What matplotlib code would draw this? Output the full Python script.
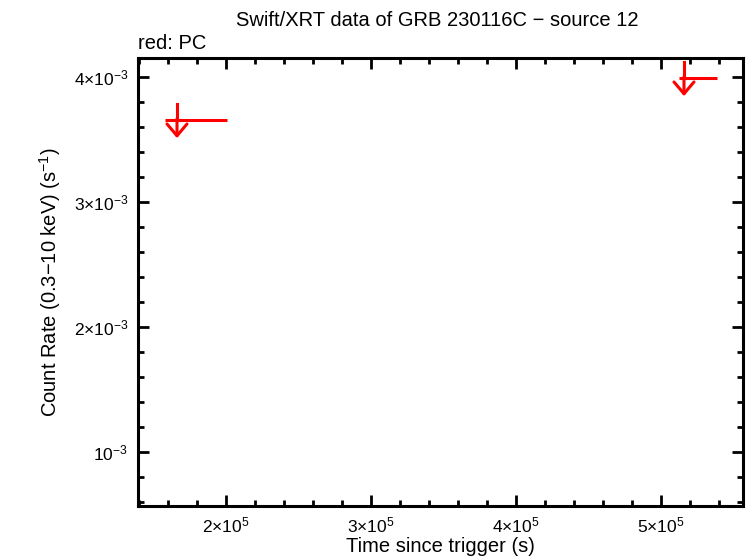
import matplotlib
matplotlib.use("Agg")
import matplotlib.pyplot as plt
from matplotlib.ticker import MultipleLocator

plt.rcParams["font.family"] = ["Liberation Sans", "DejaVu Sans"]
plt.rcParams["mathtext.fontset"] = "custom"
plt.rcParams["mathtext.rm"] = "Liberation Sans"
plt.rcParams["mathtext.default"] = "regular"

# PC mode upper limits
t_mid = [1.662e5, 5.159e5]
t_lo = [1.579e5, 5.124e5]
t_hi = [2.007e5, 5.386e5]
rate_ul = [3.656e-3, 3.992e-3]

xticks = [2e5, 3e5, 4e5, 5e5]
xlabels = [r"$2{\times}10^{5}$", r"$3{\times}10^{5}$", r"$4{\times}10^{5}$", r"$5{\times}10^{5}$"]
yticks = [1e-3, 2e-3, 3e-3, 4e-3]
ylabels = [r"$10^{-3}$", r"$2{\times}10^{-3}$", r"$3{\times}10^{-3}$", r"$4{\times}10^{-3}$"]

fig = plt.figure(figsize=(7.46, 5.58), dpi=100)
ax = fig.add_axes([138 / 746, 52 / 558, 605 / 746, 448 / 558])

for tm, lo, hi, r in zip(t_mid, t_lo, t_hi, rate_ul):
    ax.plot([lo, hi], [r, r], color="red", lw=2.2, solid_capstyle="butt")
    ax.plot([tm, tm], [r + 0.132e-3, r], color="red", lw=2.2)
    ax.annotate("", xy=(tm, r - 0.145e-3), xytext=(tm, r + 0.01e-3),
                arrowprops=dict(arrowstyle="->,head_length=0.85,head_width=0.72",
                                color="red", lw=2.2, shrinkA=0, shrinkB=0))

ax.set_xlim(1.393e5, 5.566e5)
ax.set_ylim(0.568e-3, 4.152e-3)
ax.set_xticks(xticks)
ax.set_xticklabels(xlabels)
ax.set_yticks(yticks)
ax.set_yticklabels(ylabels)
ax.xaxis.set_minor_locator(MultipleLocator(2e4))
ax.yaxis.set_minor_locator(MultipleLocator(2e-4))

for s in ax.spines.values():
    s.set_linewidth(2.2)
ax.tick_params(which="both", direction="in", top=True, right=True, width=2, labelsize=12.5)
ax.tick_params(which="major", length=8, pad=7)
ax.tick_params(which="minor", length=4)

ax.set_xlabel("Time since trigger (s)", fontsize=14.5, labelpad=1)
ax.set_ylabel("Count Rate (0.3\u221210 keV) (s$^{-1}$)", fontsize=14.5, labelpad=8)
fig.text(0.586, 0.963, "Swift/XRT data of GRB 230116C \u2212 source 12", ha="center", va="center", fontsize=14.5)
fig.text(138 / 746, 0.922, "red: PC", ha="left", va="center", fontsize=14.5)

fig.savefig("out.png", dpi=100)
